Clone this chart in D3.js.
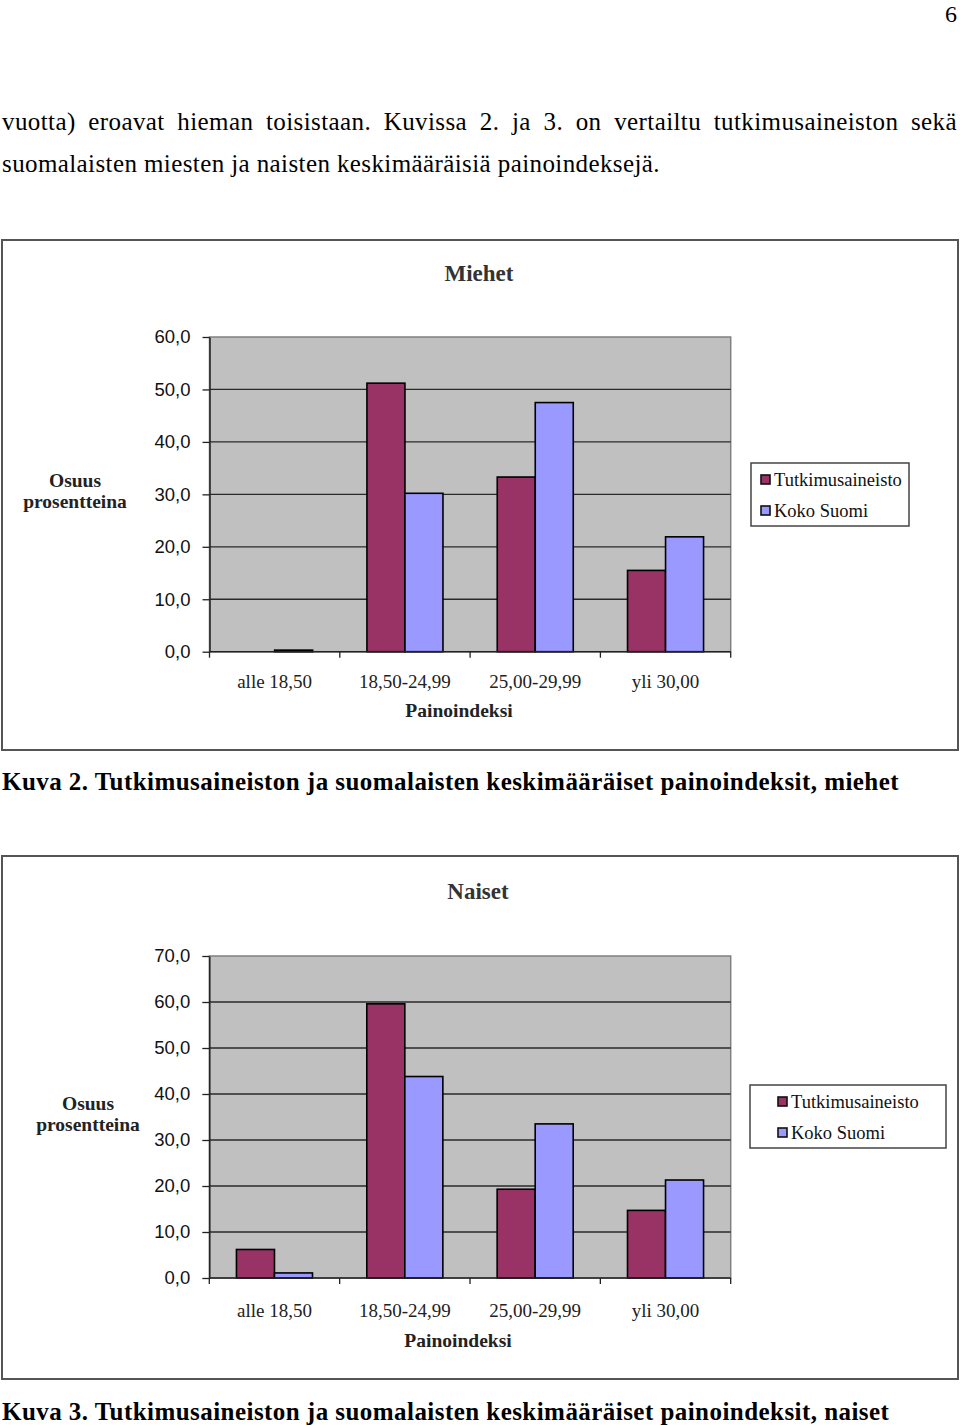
<!DOCTYPE html>
<html>
<head>
<meta charset="utf-8">
<script src="https://cdn.jsdelivr.net/npm/d3@7"></script>
<style>
  body { margin: 0; background: #fff; }
  svg { display: block; }
  .serif { font-family: "Liberation Serif", "Times New Roman", serif; }
  .sans { font-family: "Liberation Sans", Arial, sans-serif; }
</style>
</head>
<body>
<div id="page"></div>
<script>
// data
const categories = ['alle 18,50', '18,50-24,99', '25,00-29,99', 'yli 30,00'];
const seriesNames = ['Tutkimusaineisto', 'Koko Suomi'];
const seriesColors = ['#993366', '#9999ff'];

const miehetTutkimus = [0, 51.2, 33.3, 15.5];
const miehetKoko = [0.3, 30.2, 47.5, 21.9];
const miehetTicks = [0, 10, 20, 30, 40, 50, 60];

const naisetTutkimus = [6.2, 59.6, 19.3, 14.7];
const naisetKoko = [1.1, 43.8, 33.5, 21.3];
const naisetTicks = [0, 10, 20, 30, 40, 50, 60, 70];

const bodyLines = [
    'vuotta) eroavat hieman toisistaan. Kuvissa 2. ja 3. on vertailtu tutkimusaineiston sekä',
    'suomalaisten miesten ja naisten keskimääräisiä painoindeksejä.'
];

const svg = d3.select('#page')
    .append('svg')
    .attr('width', 960)
    .attr('height', 1425);

// page number
svg.append('text')
    .attr('class', 'serif')
    .attr('x', 957)
    .attr('y', 22)
    .attr('text-anchor', 'end')
    .attr('font-size', 24)
    .text('6');

// body text, first line justified
bodyLines.forEach((line, i) => {
    const t = svg.append('text')
        .attr('class', 'serif')
        .attr('x', 2)
        .attr('y', 130 + i * 42)
        .attr('font-size', 25)
        .attr('letter-spacing', 0.4)
        .text(line);
    if (i === 0) {
        const natural = t.node().getComputedTextLength();
        const spaces = line.split(' ').length - 1;
        t.attr('word-spacing', (955 - natural) / spaces);
    }
});

const captions = [
    { y: 790, text: 'Kuva 2. Tutkimusaineiston ja suomalaisten keskimääräiset painoindeksit, miehet' },
    { y: 1420, text: 'Kuva 3. Tutkimusaineiston ja suomalaisten keskimääräiset painoindeksit, naiset' }
];

captions.forEach(c => {
    svg.append('text')
        .attr('class', 'serif')
        .attr('x', 2)
        .attr('y', c.y)
        .attr('font-size', 25)
        .attr('letter-spacing', 0.45)
        .attr('font-weight', 'bold')
        .text(c.text);
});

const fmt = d => d.toFixed(1).replace('.', ',');

const drawChart = (cfg) => {
    const g = svg.append('g');

    // outer frame
    g.append('rect')
        .attr('x', cfg.frame.x)
        .attr('y', cfg.frame.y)
        .attr('width', cfg.frame.w)
        .attr('height', cfg.frame.h)
        .attr('fill', '#fff')
        .attr('stroke', '#555')
        .attr('stroke-width', 2);

    const p = cfg.plot;
    const graphWidth = p.right - p.left;
    const graphHeight = p.bottom - p.top;

    const chart = g.append('g')
        .attr('transform', `translate(${p.left}, ${p.top})`);

    // scales
    const x0 = d3.scaleBand()
        .domain(categories)
        .range([0, graphWidth])
        .padding(0);

    const x1 = d3.scaleBand()
        .domain(seriesNames)
        .range([0, x0.bandwidth()])
        .paddingInner(0)
        .paddingOuter(0.714);

    const y = d3.scaleLinear()
        .domain([0, d3.max(cfg.ticks)])
        .range([graphHeight, 0]);

    // plot background
    chart.append('rect')
        .attr('width', graphWidth)
        .attr('height', graphHeight)
        .attr('fill', '#c0c0c0')
        .attr('stroke', '#808080')
        .attr('stroke-width', 1.5);

    // gridlines
    chart.append('g')
        .selectAll('line')
        .data(cfg.ticks.filter(t => t > 0 && t < d3.max(cfg.ticks)))
        .enter()
        .append('line')
        .attr('x1', 0)
        .attr('x2', graphWidth)
        .attr('y1', d => y(d))
        .attr('y2', d => y(d))
        .attr('stroke', '#2a2a2a')
        .attr('stroke-width', 1.3);

    // bars
    const rows = categories.map((c, i) => ({
        cat: c,
        vals: [cfg.tutkimus[i], cfg.koko[i]]
    }));

    chart.append('g')
        .selectAll('g')
        .data(rows)
        .enter()
        .append('g')
        .attr('transform', d => `translate(${x0(d.cat)}, 0)`)
        .selectAll('rect')
        .data(d => d.vals.map((v, k) => ({ name: seriesNames[k], value: v, k })))
        .enter()
        .append('rect')
        .filter(d => d.value > 0)
        .attr('x', d => x1(d.name))
        .attr('y', d => y(d.value))
        .attr('width', x1.bandwidth())
        .attr('height', d => graphHeight - y(d.value))
        .attr('fill', d => seriesColors[d.k])
        .attr('stroke', '#000')
        .attr('stroke-width', 1.6);

    // y axis
    const yAxis = d3.axisLeft(y)
        .tickValues(cfg.ticks)
        .tickSizeInner(7)
        .tickSizeOuter(0)
        .tickPadding(12)
        .tickFormat(fmt);

    const yAxisGroup = chart.append('g').call(yAxis);
    yAxisGroup.select('.domain').attr('stroke', '#222').attr('stroke-width', 1.5);
    yAxisGroup.selectAll('.tick line').attr('stroke', '#222').attr('stroke-width', 1.3);
    yAxisGroup.selectAll('text')
        .attr('class', 'sans')
        .attr('font-size', 18.5)
        .attr('fill', '#111');

    // x axis: baseline, boundary ticks, category labels
    const xAxisGroup = chart.append('g')
        .attr('transform', `translate(0, ${graphHeight})`);

    xAxisGroup.append('line')
        .attr('x1', 0)
        .attr('x2', graphWidth)
        .attr('stroke', '#222')
        .attr('stroke-width', 1.6);

    const bounds = categories.map(c => x0(c)).concat([graphWidth]);
    xAxisGroup.selectAll('.bound')
        .data(bounds)
        .enter()
        .append('line')
        .attr('class', 'bound')
        .attr('x1', d => d)
        .attr('x2', d => d)
        .attr('y1', 0)
        .attr('y2', 6)
        .attr('stroke', '#222')
        .attr('stroke-width', 1.3);

    const xAxis = d3.axisBottom(x0)
        .tickSize(0)
        .tickPadding(0);

    const labelGroup = chart.append('g')
        .attr('transform', `translate(0, ${cfg.xLabelY - p.top})`)
        .call(xAxis);
    labelGroup.select('.domain').remove();
    labelGroup.selectAll('text')
        .attr('class', 'serif')
        .attr('dy', 0)
        .attr('font-size', 19)
        .attr('fill', '#222');

    // titles
    g.append('text')
        .attr('class', 'serif')
        .attr('x', cfg.titleX)
        .attr('y', cfg.titleY)
        .attr('text-anchor', 'middle')
        .attr('font-size', 23)
        .attr('font-weight', 'bold')
        .attr('fill', '#333')
        .text(cfg.title);

    g.append('text')
        .attr('class', 'serif')
        .attr('x', cfg.xTitleX)
        .attr('y', cfg.xTitleY)
        .attr('text-anchor', 'middle')
        .attr('font-size', 19.5)
        .attr('font-weight', 'bold')
        .attr('fill', '#222')
        .text('Painoindeksi');

    const yTitle = g.append('text')
        .attr('class', 'serif')
        .attr('text-anchor', 'middle')
        .attr('font-size', 19.5)
        .attr('font-weight', 'bold')
        .attr('fill', '#222');
    ['Osuus', 'prosentteina'].forEach((w, i) => {
        yTitle.append('tspan')
            .attr('x', cfg.yTitleX)
            .attr('y', cfg.yTitleY + i * 21)
            .text(w);
    });

    // legend
    const lg = cfg.legend;
    const legend = g.append('g')
        .attr('transform', `translate(${lg.x}, ${lg.y})`);
    legend.append('rect')
        .attr('width', lg.w)
        .attr('height', lg.h)
        .attr('fill', '#fff')
        .attr('stroke', '#444')
        .attr('stroke-width', 1.5);

    const items = legend.selectAll('.item')
        .data(seriesNames)
        .enter()
        .append('g')
        .attr('class', 'item')
        .attr('transform', (d, i) => `translate(${lg.mx}, ${23 + i * 31})`);
    items.append('rect')
        .attr('x', 0)
        .attr('y', -11)
        .attr('width', 9)
        .attr('height', 9)
        .attr('fill', (d, i) => seriesColors[i])
        .attr('stroke', '#111')
        .attr('stroke-width', 1.6);
    items.append('text')
        .attr('class', 'serif')
        .attr('x', 13)
        .attr('font-size', 18.5)
        .attr('fill', '#111')
        .text(d => d);
};

drawChart({
    title: 'Miehet',
    tutkimus: miehetTutkimus,
    koko: miehetKoko,
    ticks: miehetTicks,
    frame: { x: 2, y: 240, w: 956, h: 510 },
    plot: { left: 209.5, right: 730.7, top: 337, bottom: 651.7 },
    titleX: 479, titleY: 281,
    xLabelY: 688,
    xTitleX: 459, xTitleY: 717,
    yTitleX: 75, yTitleY: 487,
    legend: { x: 751, y: 463, w: 158, h: 63, mx: 10 }
});

drawChart({
    title: 'Naiset',
    tutkimus: naisetTutkimus,
    koko: naisetKoko,
    ticks: naisetTicks,
    frame: { x: 2, y: 856, w: 956, h: 523 },
    plot: { left: 209.3, right: 730.7, top: 956, bottom: 1278 },
    titleX: 478, titleY: 899,
    xLabelY: 1317,
    xTitleX: 458, xTitleY: 1347,
    yTitleX: 88, yTitleY: 1110,
    legend: { x: 750, y: 1085, w: 196, h: 63, mx: 28 }
});
</script>
</body>
</html>
